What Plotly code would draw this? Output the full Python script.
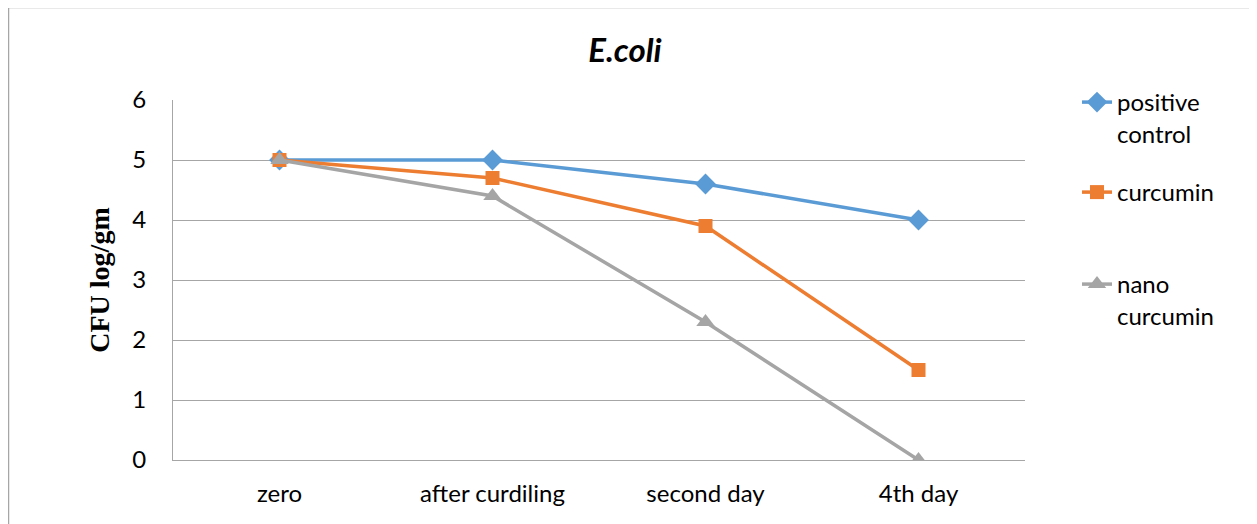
import plotly.graph_objects as go

categories = ["zero", "after curdiling", "second day", "4th day"]
positive_control = [5, 5, 4.6, 4]
curcumin = [5, 4.7, 3.9, 1.5]
nano_curcumin = [5, 4.4, 2.3, 0]
y_ticks = [0, 1, 2, 3, 4, 5, 6]

OFF = 8  # page body margin
W, H = 1257 - OFF, 524 - OFF
L, R, T, B = 173 - OFF, 1025 - OFF, 100 - OFF, 460 - OFF

def px(x):  # reference pixel -> paper
    return (x - OFF - L) / (R - L)

def py(y):
    return (B - (y - OFF)) / (B - T)

fig = go.Figure()
series = [
    ("positive<br>control", positive_control, "#5b9bd5", "diamond", 16, "legend"),
    ("curcumin", curcumin, "#ed7d31", "square", 14, "legend2"),
    ("nano<br>curcumin", nano_curcumin, "#a5a5a5", "triangle-up", 16, "legend3"),
]
for name, vals, col, sym, ms, lg in series:
    fig.add_trace(go.Scatter(
        x=categories, y=vals, name=name, mode="lines+markers",
        line=dict(color=col, width=3.5),
        marker=dict(symbol=sym, size=ms, color=col),
        legend=lg, showlegend=True,
    ))

font_main = "Lato, 'Open Sans', sans-serif"
leg_common = dict(font=dict(family=font_main, size=24, color="#000"),
                  bgcolor="rgba(0,0,0,0)", xanchor="left", yanchor="top",
                  valign="top", itemwidth=30, visible=True)

fig.update_layout(
    width=W, height=H, showlegend=True,
    margin=dict(l=L, r=W - R, t=T, b=H - B),
    paper_bgcolor="white", plot_bgcolor="white",
    title=dict(text="<b><i>E.coli</i></b>", x=(625 - OFF) / W, xref="container", xanchor="center",
               y=1 - (50 - OFF) / H, yref="container", yanchor="middle",
               font=dict(family=font_main, size=33, color="#000")),
    xaxis=dict(type="category", showgrid=False, showline=True, linecolor="#a6a6a6", linewidth=1,
               tickfont=dict(family=font_main, size=24, color="#000"), ticks="",
               ticklabelstandoff=12, range=[-0.5, 3.5]),
    yaxis=dict(range=[0, 6], tickvals=y_ticks, showgrid=True, gridcolor="#a6a6a6", gridwidth=1,
               showline=True, linecolor="#a6a6a6", linewidth=1, zeroline=False,
               tickfont=dict(family=font_main, size=24, color="#000"), ticks="",
               ticklabelstandoff=21,
               title=dict(text="<b>CFU log/gm</b>", standoff=14,
                          font=dict(family="'Liberation Serif', 'Times New Roman', serif", size=28, color="#000"))),
    legend=dict(x=px(1077), y=py(80), **leg_common),
    legend2=dict(x=px(1077), y=py(170), **leg_common),
    legend3=dict(x=px(1077), y=py(262), **leg_common),
    shapes=[
        dict(type="line", xref="paper", yref="paper", x0=px(8.5), x1=px(1265), y0=py(7.5), y1=py(7.5),
             line=dict(color="#a6a6a6", width=1.5)),
        dict(type="line", xref="paper", yref="paper", x0=px(8.5), x1=px(8.5), y0=py(7.5), y1=py(535),
             line=dict(color="#a6a6a6", width=1.5)),
    ],
)

fig.write_html("out.html")
